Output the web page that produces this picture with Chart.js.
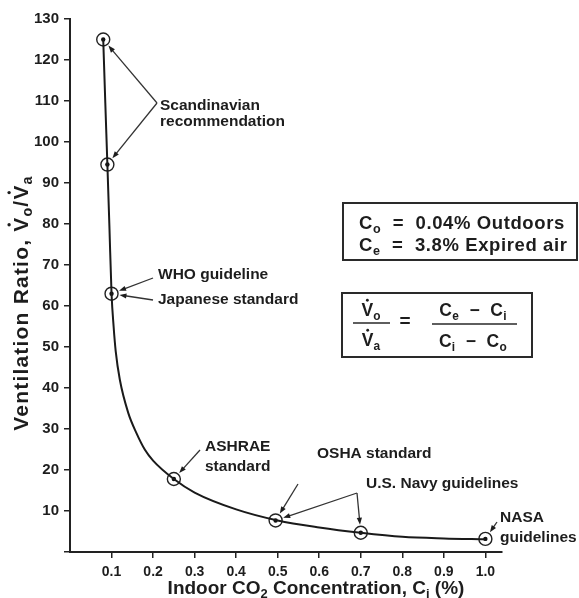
<!DOCTYPE html>
<html>
<head>
<meta charset="utf-8">
<script src="https://cdn.jsdelivr.net/npm/chart.js@4"></script>
<style>
  body { margin: 0; background: #fff; }
  #wrap { width: 579px; height: 598px; position: relative; }
</style>
</head>
<body>
<div id="wrap"><canvas id="c"></canvas></div>
<script>
// values
const curveX = [0.08, 0.085, 0.09, 0.095, 0.10, 0.105, 0.11, 0.12, 0.14, 0.16, 0.18, 0.20, 0.25, 0.30, 0.40, 0.50, 0.60, 0.70, 0.80, 0.90, 1.00]
const curveY = [125, 109.5, 94.5, 79, 63, 55, 49, 42, 34, 29, 25, 22.3, 17.8, 14.5, 10.4, 7.7, 6.0, 4.7, 3.7, 3.3, 3.1]
const markerX = [0.08, 0.09, 0.10, 0.25, 0.495, 0.70, 1.00]
const markerY = [125, 94.5, 63, 17.8, 7.7, 4.7, 3.2]
const xTicks = [0.1, 0.2, 0.3, 0.4, 0.5, 0.6, 0.7, 0.8, 0.9, 1.0]
const yTicks = [10, 20, 30, 40, 50, 60, 70, 80, 90, 100, 110, 120, 130]

const FAM = "'Liberation Sans', Arial, sans-serif"
const INK = '#1d1d1d'

const pts = (xs, ys) => xs.map((x, i) => ({ x: x, y: ys[i] }))

// label text (pixel layout) and arrows pointing at marker indexes
const labels = [
  { t: 'Scandinavian', x: 160, y: 106 },
  { t: 'recommendation', x: 160, y: 122 },
  { t: 'WHO guideline', x: 158, y: 275 },
  { t: 'Japanese standard', x: 158, y: 300 },
  { t: 'ASHRAE', x: 205, y: 447 },
  { t: 'standard', x: 205, y: 467 },
  { t: 'OSHA standard', x: 317, y: 454 },
  { t: 'U.S. Navy guidelines', x: 366, y: 484 },
  { t: 'NASA', x: 500, y: 518 },
  { t: 'guidelines', x: 500, y: 538 }
]
const arrows = [
  { from: [157, 103], to: 0 },
  { from: [157, 103], to: 1 },
  { from: [153, 278], to: 2 },
  { from: [153, 300], to: 2 },
  { from: [200, 450], to: 3 },
  { from: [298, 484], to: 4 },
  { from: [357, 493], to: 4 },
  { from: [357, 493], to: 5 },
  { from: [497, 522], to: 6 }
]

function rich(ctx, parts, x, y, size, align, spacing) {
  const f = s => 'bold ' + s + 'px ' + FAM
  ctx.textAlign = 'left'
  ctx.textBaseline = 'alphabetic'
  ctx.letterSpacing = (spacing || 0) + 'px'
  let w = 0
  parts.forEach(p => {
    ctx.font = f(p[1] === 's' ? size * 0.68 : size)
    w += ctx.measureText(p[0]).width
  })
  let cx = align === 'center' ? x - w / 2 : x
  parts.forEach(p => {
    const sub = p[1] === 's'
    ctx.font = f(sub ? size * 0.68 : size)
    ctx.fillText(p[0], cx, sub ? y + size * 0.2 : y)
    const tw = ctx.measureText(p[0]).width
    if (p[1] === 'd') {
      ctx.beginPath()
      ctx.arc(cx + tw / 2 - (spacing || 0) / 2, y - size * 0.9, size * 0.08, 0, Math.PI * 2)
      ctx.fill()
    }
    cx += tw
  })
  ctx.letterSpacing = '0px'
}

function arrow(ctx, x1, y1, x2, y2) {
  const a = Math.atan2(y2 - y1, x2 - x1)
  const L = 7, W = 2.6
  ctx.beginPath()
  ctx.moveTo(x1, y1)
  ctx.lineTo(x2 - Math.cos(a) * L * 0.8, y2 - Math.sin(a) * L * 0.8)
  ctx.stroke()
  ctx.beginPath()
  ctx.moveTo(x2, y2)
  ctx.lineTo(x2 - Math.cos(a) * L - Math.sin(a) * W, y2 - Math.sin(a) * L + Math.cos(a) * W)
  ctx.lineTo(x2 - Math.cos(a) * L + Math.sin(a) * W, y2 - Math.sin(a) * L - Math.cos(a) * W)
  ctx.closePath()
  ctx.fill()
}

const notes = {
  id: 'notes',
  afterDraw(chart) {
    const ctx = chart.ctx
    const sx = chart.scales.x, sy = chart.scales.y
    ctx.save()
    ctx.fillStyle = INK
    ctx.strokeStyle = '#333'
    ctx.lineWidth = 1.3

    // axis titles
    rich(ctx, [['Indoor CO', ''], ['2', 's'], [' Concentration, C', ''], ['i', 's'], [' (%)', '']], 316, 594, 19, 'center')
    ctx.save()
    ctx.translate(28, 303)
    ctx.rotate(-Math.PI / 2)
    rich(ctx, [['Ventilation Ratio, ', ''], ['V', 'd'], ['o', 's'], ['/', ''], ['V', 'd'], ['a', 's']], 0, 0, 21, 'center', 1.2)
    ctx.restore()

    // labels
    ctx.font = 'bold 15.5px ' + FAM
    ctx.textAlign = 'left'
    ctx.textBaseline = 'middle'
    labels.forEach(l => ctx.fillText(l.t, l.x, l.y))

    // arrows to circled points
    arrows.forEach(a => {
      const px = sx.getPixelForValue(markerX[a.to])
      const py = sy.getPixelForValue(markerY[a.to])
      const dx = a.from[0] - px, dy = a.from[1] - py
      const d = Math.hypot(dx, dy)
      const r = 8
      arrow(ctx, a.from[0], a.from[1], px + dx / d * r, py + dy / d * r)
    })

    // constants box
    ctx.lineWidth = 2
    ctx.strokeStyle = '#2a2a2a'
    ctx.strokeRect(343, 203, 234, 57)
    rich(ctx, [['C', ''], ['o', 's'], ['  =  0.04% Outdoors', '']], 359, 229, 18.5, 'left', 0.6)
    rich(ctx, [['C', ''], ['e', 's'], ['  =  3.8% Expired air', '']], 359, 251, 18.5, 'left', 0.6)

    // equation box
    ctx.strokeRect(342, 293, 190, 64)
    rich(ctx, [['V', 'd'], ['o', 's']], 371, 316, 17.5, 'center')
    rich(ctx, [['V', 'd'], ['a', 's']], 371, 346, 17.5, 'center')
    ctx.lineWidth = 1.6
    ctx.beginPath()
    ctx.moveTo(353, 323); ctx.lineTo(390, 323)
    ctx.moveTo(432, 324); ctx.lineTo(517, 324)
    ctx.stroke()
    rich(ctx, [['=', '']], 405, 327, 19, 'center')
    rich(ctx, [['C', ''], ['e', 's'], ['  \u2212  C', ''], ['i', 's']], 473, 316, 17.5, 'center', 0.3)
    rich(ctx, [['C', ''], ['i', 's'], ['  \u2212  C', ''], ['o', 's']], 473, 347, 17.5, 'center', 0.3)
    ctx.restore()
  }
}

Chart.defaults.font.family = FAM
Chart.defaults.color = INK

new Chart(document.getElementById('c'), {
  type: 'scatter',
  data: {
    datasets: [
      {
        data: pts(curveX, curveY),
        showLine: true,
        pointRadius: 0,
        borderColor: '#1a1a1a',
        borderWidth: 2,
        cubicInterpolationMode: 'monotone'
      },
      {
        data: pts(markerX, markerY),
        pointRadius: 6.5,
        pointBorderWidth: 1.4,
        pointBorderColor: '#222',
        pointBackgroundColor: 'rgba(255,255,255,0)'
      },
      {
        data: pts(markerX, markerY),
        pointRadius: 2.2,
        pointBorderWidth: 0,
        pointBackgroundColor: '#111'
      }
    ]
  },
  options: {
    responsive: true,
    maintainAspectRatio: false,
    animation: false,
    layout: { padding: { top: 19, right: 77, bottom: 0, left: 0 } },
    plugins: { legend: { display: false }, tooltip: { enabled: false } },
    scales: {
      x: {
        type: 'linear',
        min: 0,
        max: 1.04,
        afterBuildTicks: s => { s.ticks = [0].concat(xTicks).map(v => ({ value: v })) },
        afterFit: s => { s.height = 46 },
        ticks: {
          callback: v => v === 0 ? '' : v.toFixed(1),
          font: { size: 14, weight: 'bold' },
          color: INK,
          padding: 6,
          maxRotation: 0
        },
        grid: {
          drawOnChartArea: false,
          tickLength: 6,
          lineWidth: 1.5,
          color: c => c.tick && c.tick.value === 0 ? 'rgba(0,0,0,0)' : '#222'
        },
        border: { color: '#222', width: 2 }
      },
      y: {
        min: 0,
        max: 130,
        afterBuildTicks: s => { s.ticks = [0].concat(yTicks).map(v => ({ value: v })) },
        afterFit: s => { s.width = 70 },
        ticks: {
          callback: v => v === 0 ? '' : v,
          font: { size: 15, weight: 'bold' },
          color: INK,
          padding: 5
        },
        grid: {
          drawOnChartArea: false,
          tickLength: 6,
          lineWidth: 1.5,
          color: '#222'
        },
        border: { color: '#222', width: 2 }
      }
    }
  },
  plugins: [notes]
})
</script>
</body>
</html>
